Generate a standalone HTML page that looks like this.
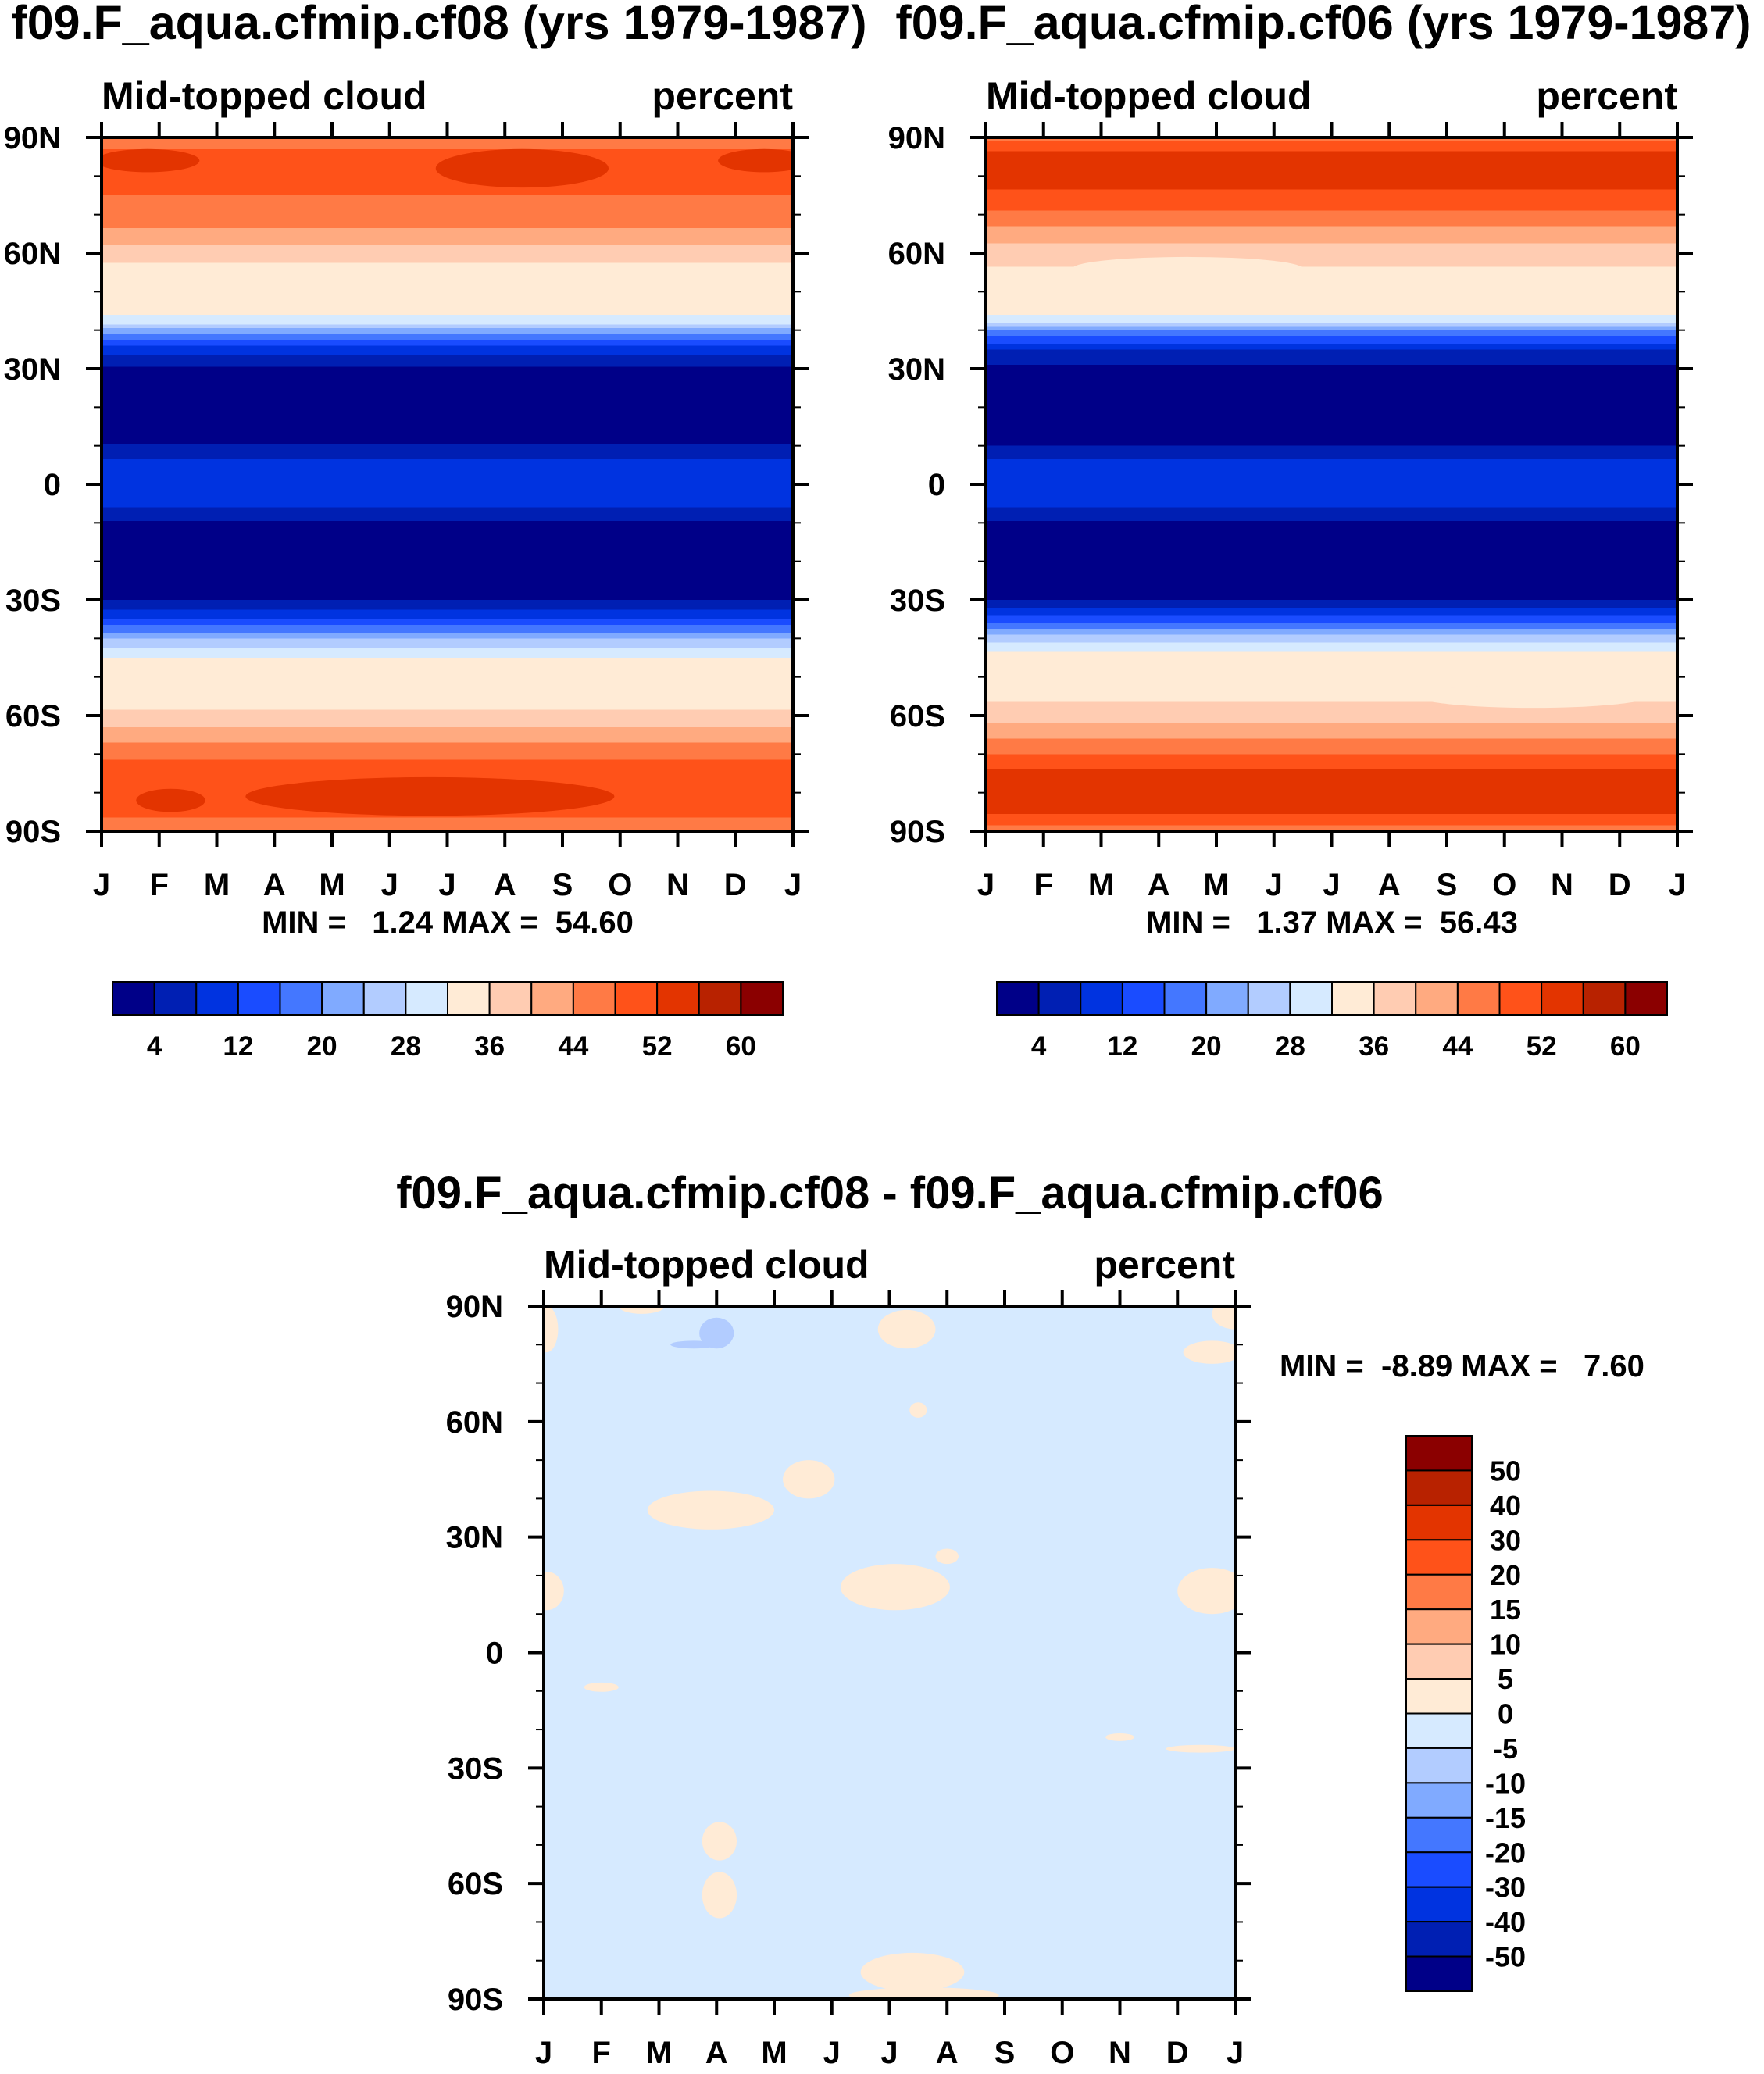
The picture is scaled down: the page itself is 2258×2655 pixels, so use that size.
<!DOCTYPE html>
<html><head><meta charset="utf-8">
<style>
html,body{margin:0;padding:0;background:#fff;}
svg{display:block;font-family:"Liberation Sans",sans-serif;font-weight:bold;}
text{white-space:pre;}
</style></head>
<body>
<svg id="fig" width="2258" height="2655" viewBox="0 0 2258 2655" xmlns="http://www.w3.org/2000/svg"></svg>
<script>
// ---- data ----
const months = ["J","F","M","A","M","J","J","A","S","O","N","D","J"];
const latTicks = ["90N","60N","30N","0","30S","60S","90S"];
const profileLats = [90,85,80,75,70,65,60,55,50,45,42,40,35,30,25,20,15,12,10,8,5,0,-5,-8,-10,-15,-20,-25,-28,-30,-35,-40,-45,-50,-55,-60,-65,-70,-75,-80,-85,-90];
const cf08Profile = [44,51,50,48,46,43,38,34,34,33,30,22,10,3,2,2,2,2,5,7,9,9,9,6,3,2,2,2,2,4,12,24,32,34,34,37,42,47,50,51,50,44];
const cf06Profile = [46,54,54,51,47,42,38,35,35,33,29,20,8,3,2,2,2,2,4,7,9,9,9,6,3,2,2,2,2,4,14,26,34,36,35,38,43,48,53,54,53,46];
const cf08Patches = [[7.3,82,1.5,5,53],[0.8,84,0.9,3,53],[11.5,84,0.8,3,53],[5.7,-81,3.2,5,53],[1.2,-82,0.6,3,53]];
const cf06Patches = [[3.5,56,2,3,35],[9.5,-55,2,3,35]];
const diffBlobs = [[2.9,37,1.1,5,2],[4.6,45,0.45,5,2],[6.1,17,0.95,6,2],[7.0,25,0.2,2,2],[11.6,16,0.6,6,2],[0.05,16,0.3,5,2],[6.3,84,0.5,5,2],[12,88,0.4,4,2],[11.6,78,0.5,3,2],[0.05,84,0.2,6,2],[1.7,90,0.4,2,2],[3.05,-49,0.3,5,2],[3.05,-63,0.3,6,2],[6.4,-83,0.9,5,2],[6.6,-89,1.3,2,2],[1.0,-9,0.3,1.2,2],[11.4,-25,0.6,1,2],[10.0,-22,0.25,1,2],[6.5,63,0.15,2,2],[3.0,83,0.3,4,-7],[2.6,80,0.4,1,-7]];
const absLevels = [4,8,12,16,20,24,28,32,36,40,44,48,52,56,60];
const absLabels = ["4","12","20","28","36","44","52","60"];
const diffLevels = [-50,-40,-30,-20,-15,-10,-5,0,5,10,15,20,30,40,50];
const palette = ["#000088","#001fb3","#0033e0","#1a4cff","#4477ff","#80aaff","#b2ccff","#d6eaff","#ffebd6","#ffccb2","#ffaa80","#ff7a45","#ff5219","#e33400","#b82200","#8b0000"];

const NS="http://www.w3.org/2000/svg";
const svg=document.getElementById('fig');
let clipN=0;
function el(tag,attrs,parent){const e=document.createElementNS(NS,tag);for(const k in attrs)e.setAttribute(k,attrs[k]);(parent||svg).appendChild(e);return e;}
function colorFor(v,levels){let i=0;while(i<levels.length&&v>=levels[i])i++;return palette[i];}
function txt(x,y,s,size,anchor,name,parent){const t=el('text',{x:x,y:y,'font-size':size,'text-anchor':anchor||'start'},parent);t.textContent=s;


return t;}
function interp(lat,prof){for(let i=0;i<profileLats.length-1;i++){const a=profileLats[i],b=profileLats[i+1];if(lat<=a&&lat>=b){const f=(a-lat)/(a-b);return prof[i]+(prof[i+1]-prof[i])*f;}}return prof[prof.length-1];}

function panel(X0,Y0,X1,Y1,name,fillFn){
  const g=el('g',{});
  
  
  const xs=m=>X0+(X1-X0)*m/12, ys=lat=>Y0+(Y1-Y0)*(90-lat)/180;
  const id='clip'+(clipN++);
  const cp=el('clipPath',{id:id},g);el('rect',{x:X0,y:Y0,width:X1-X0,height:Y1-Y0},cp);
  const inner=el('g',{'clip-path':'url(#'+id+')'},g);
  fillFn(inner,xs,ys);
  const fr=el('rect',{x:X0,y:Y0,width:X1-X0,height:Y1-Y0,fill:'none',stroke:'#000','stroke-width':4},g);
  
  
  for(let m=0;m<=12;m++){const x=xs(m);
    el('line',{x1:x,y1:Y1,x2:x,y2:Y1+20,stroke:'#000','stroke-width':4},g);
    el('line',{x1:x,y1:Y0,x2:x,y2:Y0-20,stroke:'#000','stroke-width':4},g);
    txt(x,Y1+82,months[m],40,'middle','month-label',g);}
  for(let lat=90;lat>=-90;lat-=10){const y=ys(lat);const maj=lat%30===0;const L=maj?20:10;
    el('line',{x1:X0,y1:y,x2:X0-L,y2:y,stroke:'#000','stroke-width':maj?4:2},g);
    el('line',{x1:X1,y1:y,x2:X1+L,y2:y,stroke:'#000','stroke-width':maj?4:2},g);}
  latTicks.forEach((s,i)=>txt(X0-52,ys(90-30*i)+14,s,40,'end','lat-label',g));
  txt(X0,Y0-36,'Mid-topped cloud',50,'start','left-subtitle',g);
  txt(X1,Y0-36,'percent',50,'end','units-label',g);
  return {xs,ys};
}
function absFill(prof,patches){return (g,xs,ys)=>{
  for(let lat=90;lat>-90;lat-=0.5){const v=interp(lat-0.25,prof);
    const r=el('rect',{x:xs(0),y:ys(lat),width:xs(12)-xs(0),height:ys(lat-0.5)-ys(lat)+0.6,fill:colorFor(v,absLevels),'shape-rendering':'crispEdges'},g);
    
    }
  patches.forEach(p=>{const e=el('ellipse',{cx:xs(p[0]),cy:ys(p[1]),rx:xs(p[2])-xs(0),ry:ys(0)-ys(p[3]),fill:colorFor(p[4],absLevels)},g);
    
    });
};}
function hbar(X0,Y0,X1,Y1,name){
  const g=el('g',{});
  
  
  const w=(X1-X0)/16;
  for(let i=0;i<16;i++){const r=el('rect',{x:X0+i*w,y:Y0,width:w,height:Y1-Y0,fill:palette[i],stroke:'#000','stroke-width':2},g);
    
    }
  absLabels.forEach((s,i)=>txt(X0+w*(2*i+1),Y1+52,s,35,'middle','colorbar-label',g));
}
// Titles
txt(562,50,'f09.F_aqua.cfmip.cf08 (yrs 1979-1987)',61,'middle','title-cf08');
txt(1694,50,'f09.F_aqua.cfmip.cf06 (yrs 1979-1987)',61,'middle','title-cf06');
txt(1139,1547,'f09.F_aqua.cfmip.cf08 - f09.F_aqua.cfmip.cf06',58,'middle','title-diff');

panel(130,176,1015,1064,'panel-cf08',absFill(cf08Profile,cf08Patches));
panel(1262,176,2147,1064,'panel-cf06',absFill(cf06Profile,cf06Patches));
txt(573,1194,'MIN =   1.24 MAX =  54.60',40,'middle','minmax-cf08');
txt(1705,1194,'MIN =   1.37 MAX =  56.43',40,'middle','minmax-cf06');
hbar(144,1257,1002,1299,'colorbar-cf08');
hbar(1276,1257,2134,1299,'colorbar-cf06');

panel(696,1672,1581,2559,'panel-diff',(g,xs,ys)=>{
  const r=el('rect',{x:xs(0),y:ys(90),width:xs(12)-xs(0),height:ys(-90)-ys(90),fill:colorFor(-2,diffLevels)},g);
  
  
  diffBlobs.forEach(p=>{const e=el('ellipse',{cx:xs(p[0]),cy:ys(p[1]),rx:xs(p[2])-xs(0),ry:ys(0)-ys(p[3]),fill:colorFor(p[4],diffLevels)},g);
    
    });
});
txt(1638,1762,'MIN =  -8.89 MAX =   7.60',40,'start','minmax-diff');
(function(){
  const g=el('g',{});
  
  
  const X0=1800,X1=1884,Y0=1838,Y1=2549,h=(Y1-Y0)/16;
  for(let i=0;i<16;i++){const r=el('rect',{x:X0,y:Y0+i*h,width:X1-X0,height:h,fill:palette[15-i],stroke:'#000','stroke-width':2},g);
    
    }
  for(let i=0;i<15;i++){txt(1927,Y0+(i+1)*h+13,String(diffLevels[14-i]),36,'middle','colorbar-label',g);}
})();
</script>
</body></html>
